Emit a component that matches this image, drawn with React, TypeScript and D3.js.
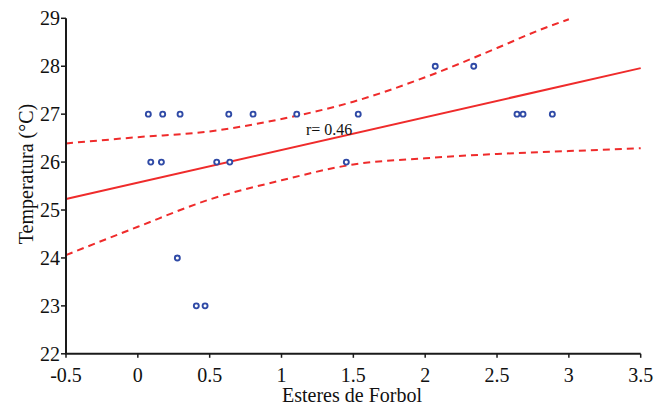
import React from "react";
import * as d3 from "d3";

const xTicks = [-0.5, 0, 0.5, 1, 1.5, 2, 2.5, 3, 3.5];
const yTicks = [22, 23, 24, 25, 26, 27, 28, 29];

const esteres = [0.073, 0.173, 0.294, 0.633, 0.802, 1.106, 1.534, 0.09, 0.164, 0.549, 0.64, 1.451, 0.275, 0.407, 0.468, 2.07, 2.338, 2.639, 2.681, 2.885];
const temperatura = [27, 27, 27, 27, 27, 27, 27, 26, 26, 26, 26, 26, 24, 23, 23, 28, 28, 27, 27, 27];

const fitX = [-0.5, 3.5];
const fitY = [25.23, 27.96];

const upperX = [-0.5, 0, 0.5, 1.0, 1.5, 2.0, 2.5, 2.8, 3.0];
const upperY = [26.39, 26.52, 26.64, 26.9, 27.26, 27.77, 28.38, 28.76, 28.98];

const lowerX = [-0.5, 0, 0.5, 1.0, 1.5, 2.0, 2.5, 3.0, 3.5];
const lowerY = [24.06, 24.65, 25.22, 25.62, 25.95, 26.08, 26.17, 26.23, 26.29];

const W = 665;
const H = 406;
const FONT = "'Liberation Serif', 'Times New Roman', serif";
const RED = "#ef2b2b";
const BLUE = "#2f4aa6";
const AXIS = "#1a1a1a";

export default function App() {
  const x = d3.scaleLinear().domain([-0.5, 3.5]).range([66, 640.7]);
  const y = d3.scaleLinear().domain([22, 29]).range([353.8, 18.3]);

  const line = d3
    .line<[number, number]>()
    .x((d) => x(d[0]))
    .y((d) => y(d[1]))
    .curve(d3.curveMonotoneX);

  const fitPath = line(fitX.map((v, i) => [v, fitY[i]] as [number, number])) || "";
  const upperPath = line(upperX.map((v, i) => [v, upperY[i]] as [number, number])) || "";
  const lowerPath = line(lowerX.map((v, i) => [v, lowerY[i]] as [number, number])) || "";

  const x0 = x(-0.5);
  const y0 = y(22);

  return (
    <svg
      width={W}
      height={H}
      style={{ position: "absolute", left: 0, top: 0, background: "#fff" }}
      fontFamily={FONT}
    >
      <rect width={W} height={H} fill="#fff" />
      <path d={upperPath} fill="none" stroke={RED} strokeWidth={2} strokeDasharray="7,5" />
      <path d={lowerPath} fill="none" stroke={RED} strokeWidth={2} strokeDasharray="7,5" />
      <path d={fitPath} fill="none" stroke={RED} strokeWidth={2} />

      {esteres.map((v, i) => (
        <circle
          key={i}
          cx={x(v)}
          cy={y(temperatura[i])}
          r={2.5}
          fill="#fff"
          stroke={BLUE}
          strokeWidth={1.9}
        />
      ))}

      <text x={306} y={135} fontSize={16} fill="#111">
        r= 0.46
      </text>

      <line x1={x0} x2={x0} y1={y(29)} y2={y0} stroke={AXIS} strokeWidth={2} />
      <line x1={x0 - 1} x2={x(3.5)} y1={y0} y2={y0} stroke={AXIS} strokeWidth={2} />
      {yTicks.map((t) => (
        <g key={"y" + t}>
          <line x1={x0 - 5} x2={x0} y1={y(t)} y2={y(t)} stroke={AXIS} strokeWidth={1.5} />
          <text x={x0 - 6} y={y(t) + 7} fontSize={20} textAnchor="end" fill="#111">
            {t}
          </text>
        </g>
      ))}
      {xTicks.map((t) => (
        <g key={"x" + t}>
          <line x1={x(t)} x2={x(t)} y1={y0} y2={y0 + 4} stroke={AXIS} strokeWidth={1.5} />
          <text x={x(t)} y={y0 + 28} fontSize={20} textAnchor="middle" fill="#111">
            {t}
          </text>
        </g>
      ))}
      <text x={352} y={402} fontSize={20} textAnchor="middle" fill="#111">
        Esteres de Forbol
      </text>
      <text
        transform={`translate(32.5, 174) rotate(-90)`}
        fontSize={20}
        textAnchor="middle"
        fill="#111"
      >
        Temperatura (°C)
      </text>
    </svg>
  );
}
